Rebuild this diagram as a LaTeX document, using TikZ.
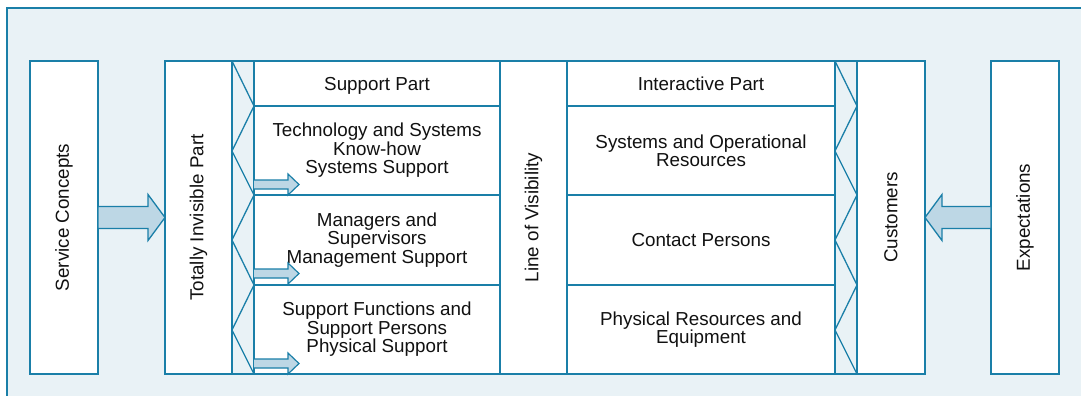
\documentclass[tikz,border=0pt]{standalone}
\usepackage{fontspec}
\setmainfont{Liberation Sans}
\definecolor{ln}{HTML}{1A7FA8}
\definecolor{bg}{HTML}{E9F2F6}
\definecolor{af}{HTML}{BDD7E5}
\definecolor{tx}{HTML}{111111}
\begin{document}
\begin{tikzpicture}[x=1pt,y=-1pt,
  box/.style={draw=ln,line width=1.3pt,fill=white,inner sep=0pt,outer sep=0pt},
  strip/.style={draw=ln,line width=1.3pt,fill=bg,inner sep=0pt,outer sep=0pt},
  txt/.style={font=\fontsize{18.8}{18.4}\selectfont,align=center,text=tx},
  zz/.style={draw=ln,line width=1.3pt,line join=miter},
  bigarrow/.style={draw=ln,line width=1.3pt,fill=af,line join=miter},
  smallarrow/.style={draw=ln,line width=1.2pt,fill=af,line join=miter}]
\useasboundingbox (0,0) rectangle (1081,396);
\fill[bg] (7,8) rectangle (1095,410);
\draw[ln,line width=2pt] (7,410) -- (7,8) -- (1095,8);
% boxes
\node[box,minimum width=68pt,minimum height=313pt] (sc) at (64,217.5) {};
\node[txt,rotate=90] (sct) at (sc) {Service Concepts};
\node[box,minimum width=67pt,minimum height=313pt] (tiv) at (198.5,217.5) {};
\node[txt,rotate=90] (tivt) at (tiv) {Totally Invisible Part};
\node[strip,minimum width=22pt,minimum height=313pt] (stl) at (243,217.5) {};
\node[box,txt,text depth=0pt,minimum width=246pt,minimum height=45pt] (sh) at (377,83.5) {Support Part};
\node[box,txt,minimum width=246pt,minimum height=89pt] (s1) at (377,150.5) {Technology and Systems\\Know-how\\Systems Support};
\node[box,txt,minimum width=246pt,minimum height=90pt] (s2) at (377,240) {Managers and\\Supervisors\\Management Support};
\node[box,txt,minimum width=246pt,minimum height=89pt] (s3) at (377,329.5) {Support Functions and\\Support Persons\\Physical Support};
\node[box,minimum width=67pt,minimum height=313pt] (lov) at (533.5,217.5) {};
\node[txt,rotate=90] (lovt) at (lov) {Line of Visibility};
\node[box,txt,minimum width=268pt,minimum height=45pt] (ih) at (701,83.5) {Interactive Part};
\node[box,txt,minimum width=268pt,minimum height=89pt] (i1) at (701,150.5) {Systems and Operational\\Resources};
\node[box,txt,minimum width=268pt,minimum height=90pt] (i2) at (701,240) {Contact Persons};
\node[box,txt,minimum width=268pt,minimum height=89pt] (i3) at (701,329.5) {Physical Resources and\\Equipment};
\node[strip,minimum width=22pt,minimum height=313pt] (str) at (846,217.5) {};
\node[box,minimum width=68pt,minimum height=313pt] (cu) at (891,217.5) {};
\node[txt,rotate=90] (cut) at (cu) {Customers};
\node[box,minimum width=68pt,minimum height=313pt] (ex) at (1025,217.5) {};
\node[txt,rotate=90] (ext) at (ex) {Expectations};
% zigzags
\draw[zz] (stl.north west) -- (sh.south west) -- (232,151) -- (s1.south west) -- (232,240) -- (s2.south west) -- (232,330) -- (s3.south west);
\draw[zz] (str.north west) -- (cu.north west |- ih.south) -- (835,151) -- (cu.west |- i1.south) -- (835,240) -- (cu.west |- i2.south) -- (835,330) -- (cu.south west);
% big arrows
\draw[bigarrow] ([yshift=11pt]sc.east) -- ([xshift=-17pt,yshift=11pt]tiv.west) -- ([xshift=-17pt,yshift=23pt]tiv.west) -- (tiv.west) -- ([xshift=-17pt,yshift=-23pt]tiv.west) -- ([xshift=-17pt,yshift=-11pt]tiv.west) -- ([yshift=-11pt]sc.east) -- cycle;
\draw[bigarrow] ([yshift=11pt]ex.west) -- ([xshift=17pt,yshift=11pt]cu.east) -- ([xshift=17pt,yshift=23pt]cu.east) -- (cu.east) -- ([xshift=17pt,yshift=-23pt]cu.east) -- ([xshift=17pt,yshift=-11pt]cu.east) -- ([yshift=-11pt]ex.west) -- cycle;
% small arrows
\foreach \c in {184.5,273.5,363.5}{
  \draw[smallarrow] (254,\c-4.5) -- (288,\c-4.5) -- (288,\c-10.5) -- (299,\c) -- (288,\c+10.5) -- (288,\c+4.5) -- (254,\c+4.5);
}
\end{tikzpicture}
\end{document}
